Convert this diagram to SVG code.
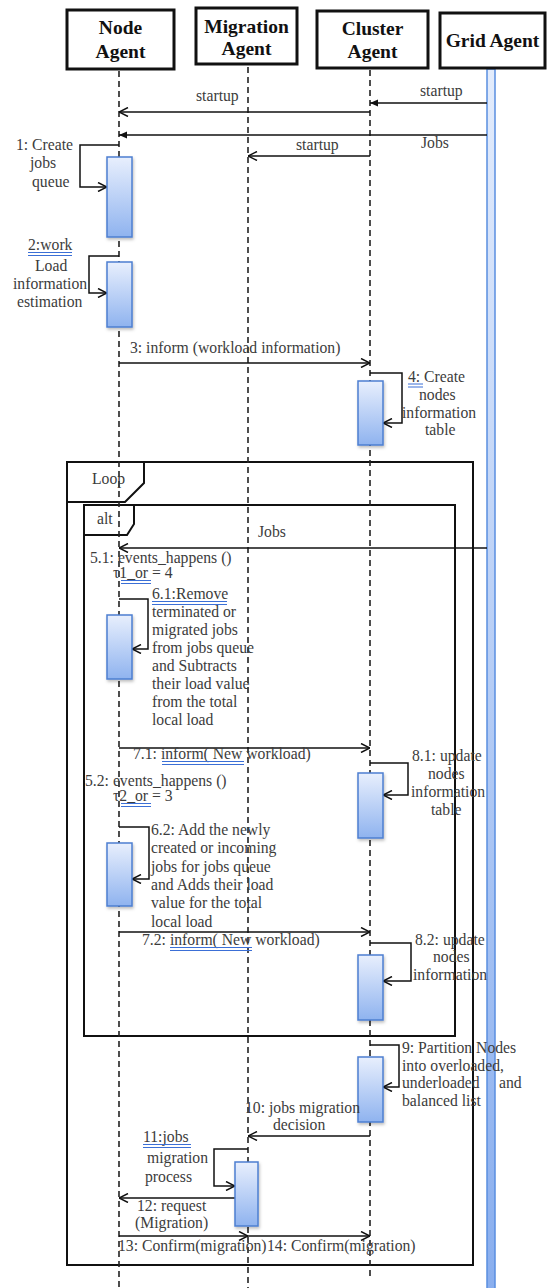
<svg xmlns="http://www.w3.org/2000/svg" width="548" height="1288" viewBox="0 0 548 1288">
  <defs>
    <style>
      .hdr-box { fill: #fff; stroke: #111; stroke-width: 3; }
      .hdr-txt { font-family: "Liberation Serif", "Times New Roman", serif; font-weight: bold; font-size: 19.5px; text-anchor: middle; fill: #111; }
      .life { stroke: #222; stroke-width: 1.6; stroke-dasharray: 6 4; fill: none; }
      .msg { stroke: #111; stroke-width: 1.5; fill: none; }
      .open { marker-end: url(#arrowOpen); }
      .solid { marker-end: url(#arrowSolid); }
      .act { fill: url(#actGrad); stroke: #4d7fd1; stroke-width: 1.5; filter: url(#shadow); }
      .frame { fill: none; stroke: #111; stroke-width: 2; }
      .lbl { font-family: "Liberation Serif", "Times New Roman", serif; font-size: 15.7px; fill: #3c3c3c; }
      .ul { stroke: #3b6fd6; stroke-width: 1; }
    </style>
    <linearGradient id="actGrad" x1="0" y1="0" x2="0" y2="1">
      <stop offset="0" stop-color="#e8effd"/>
      <stop offset="1" stop-color="#8fb3ef"/>
    </linearGradient>
    <linearGradient id="barGrad" x1="0" y1="0" x2="0" y2="1">
      <stop offset="0" stop-color="#e3ecfc"/>
      <stop offset="1" stop-color="#89aeee"/>
    </linearGradient>
    <filter id="shadow" x="-30%" y="-10%" width="160%" height="130%">
      <feDropShadow dx="1" dy="2" stdDeviation="1.5" flood-color="#000" flood-opacity="0.25"/>
    </filter>
    <marker id="arrowOpen" viewBox="0 0 10 10" refX="10" refY="5" markerWidth="10" markerHeight="10" markerUnits="userSpaceOnUse" orient="auto">
      <path d="M1,0.5 L10,5 L1,9.5" fill="none" stroke="#111" stroke-width="1.5"/>
    </marker>
    <marker id="arrowSolid" viewBox="0 0 8 8" refX="8" refY="4" markerWidth="8" markerHeight="8" markerUnits="userSpaceOnUse" orient="auto">
      <path d="M0,0.5 L8,4 L0,7.5 Z" fill="#111"/>
    </marker>
  </defs>

  <!-- combined fragments -->
  <g id="frame-loop">
    <rect class="frame" x="67" y="462" width="406" height="803"/>
    <path class="frame" d="M67,502 H125 L144,483 V462"/>
  </g>
  <g id="frame-alt">
    <rect class="frame" x="84" y="505" width="371" height="531"/>
    <path class="frame" d="M84,535 H127 L134,524 V505"/>
  </g>

  <!-- lifelines with their heads -->
  <g id="node-agent">
    <line class="life" x1="119" y1="71" x2="119" y2="1288"/>
    <rect class="hdr-box" x="67" y="10" width="107" height="59"/>
    <text class="hdr-txt" x="120.5" y="34">Node</text>
    <text class="hdr-txt" x="120.5" y="58">Agent</text>
  </g>
  <g id="migration-agent">
    <line class="life" x1="248" y1="67" x2="248" y2="1288"/>
    <rect class="hdr-box" x="196" y="8" width="101" height="56"/>
    <text class="hdr-txt" x="246.5" y="33">Migration</text>
    <text class="hdr-txt" x="246.5" y="55">Agent</text>
  </g>
  <g id="cluster-agent">
    <line class="life" x1="370" y1="70" x2="370" y2="1280"/>
    <rect class="hdr-box" x="317" y="11" width="111" height="57"/>
    <text class="hdr-txt" x="372.5" y="35">Cluster</text>
    <text class="hdr-txt" x="372.5" y="58">Agent</text>
  </g>
  <g id="grid-agent">
    <rect x="487" y="69" width="8" height="1225" fill="url(#barGrad)" stroke="#5a8ee0" stroke-width="1.5"/>
    <rect class="hdr-box" x="440" y="13" width="105" height="55"/>
    <text class="hdr-txt" x="492.5" y="47">Grid Agent</text>
  </g>

  <!-- messages -->
  <g id="connectors">
    <path class="msg solid" d="M487,103 H370"/>
    <path class="msg open" d="M370,112 H119"/>
    <path class="msg solid" d="M487,135 H119"/>
    <path class="msg open" d="M370,156 H248"/>
    <path class="msg open" d="M119,145 H80 V187 H107"/>
    <path class="msg open" d="M119,256 H89 V293 H107"/>
    <path class="msg open" d="M119,363 H370"/>
    <path class="msg open" d="M370,373 H402 V423 H383"/>
    <path class="msg open" d="M487,548 H119"/>
    <path class="msg open" d="M119,599 H148 V649 H132"/>
    <path class="msg open" d="M119,748 H370"/>
    <path class="msg open" d="M370,763 H408 V795 H383"/>
    <path class="msg open" d="M119,827 H149 V879 H132"/>
    <path class="msg open" d="M119,932 H370"/>
    <path class="msg open" d="M370,943 H411 V981 H383"/>
    <path class="msg open" d="M370,1045 H399 V1087 H383"/>
    <path class="msg open" d="M370,1136 H248"/>
    <path class="msg open" d="M248,1149 H214 V1186 H235"/>
    <path class="msg open" d="M235,1198 H119"/>
    <path class="msg open" d="M119,1236 H248"/>
    <path class="msg open" d="M248,1236 H370"/>
  </g>

  <!-- execution occurrences -->
  <g id="activations">
    <rect id="act-1" class="act" x="107" y="157" width="25" height="80"/>
    <rect id="act-2" class="act" x="107" y="262" width="25" height="65"/>
    <rect id="act-4" class="act" x="358" y="381" width="25" height="64"/>
    <rect id="act-61" class="act" x="107" y="615" width="25" height="64"/>
    <rect id="act-81" class="act" x="358" y="773" width="25" height="65"/>
    <rect id="act-62" class="act" x="107" y="843" width="25" height="63"/>
    <rect id="act-82" class="act" x="358" y="955" width="25" height="65"/>
    <rect id="act-9" class="act" x="358" y="1057" width="25" height="65"/>
    <rect id="act-11" class="act" x="235" y="1162" width="23" height="64"/>
  </g>

  <!-- labels -->
  <g id="labels" class="lbl">
    <text x="92" y="484">Loop</text>
    <text x="97" y="524">alt</text>

    <text x="420" y="96">startup</text>
    <text x="196" y="101">startup</text>
    <text x="421" y="148">Jobs</text>
    <text x="296" y="150">startup</text>

    <text x="16" y="150">1: Create</text>
    <text x="30" y="168">jobs</text>
    <text x="32" y="187">queue</text>

    <text x="28" y="250">2:work</text>
    <line class="ul" x1="28" y1="252.5" x2="72" y2="252.5"/>
    <line class="ul" x1="28" y1="255.5" x2="72" y2="255.5"/>
    <text x="35" y="271">Load</text>
    <text x="13" y="289">information</text>
    <text x="17" y="307">estimation</text>

    <text x="130" y="353">3: inform (workload information)</text>

    <text x="408" y="382">4: Create</text>
    <line class="ul" x1="408" y1="384" x2="423" y2="384"/>
    <line class="ul" x1="408" y1="387" x2="423" y2="387"/>
    <text x="419" y="400">nodes</text>
    <text x="402" y="418">information</text>
    <text x="425" y="435">table</text>

    <text x="258" y="537">Jobs</text>
    <text x="90" y="563">5.1: events_happens ()</text>
    <text x="113" y="578">τ1_or = 4</text>
    <line class="ul" x1="121" y1="580.5" x2="151" y2="580.5"/>
    <line class="ul" x1="121" y1="583.5" x2="151" y2="583.5"/>

    <text x="152" y="599">6.1:Remove</text>
    <line class="ul" x1="152" y1="601.5" x2="227" y2="601.5"/>
    <line class="ul" x1="152" y1="604.5" x2="227" y2="604.5"/>
    <text x="152" y="617">terminated or</text>
    <text x="152" y="635">migrated jobs</text>
    <text x="152" y="653">from jobs queue</text>
    <text x="152" y="671">and Subtracts</text>
    <text x="152" y="689">their load value</text>
    <text x="152" y="707">from the total</text>
    <text x="152" y="725">local load</text>

    <text x="133" y="759">7.1: inform( New workload)</text>
    <line class="ul" x1="162" y1="761.5" x2="244" y2="761.5"/>
    <line class="ul" x1="162" y1="764.5" x2="244" y2="764.5"/>

    <text x="412" y="761">8.1: update</text>
    <text x="428" y="779">nodes</text>
    <text x="411" y="797">information</text>
    <text x="431" y="815">table</text>

    <text x="85" y="786">5.2: events_happens ()</text>
    <text x="113" y="801">τ2_or = 3</text>
    <line class="ul" x1="121" y1="803.5" x2="151" y2="803.5"/>
    <line class="ul" x1="121" y1="806.5" x2="151" y2="806.5"/>

    <text x="151" y="835">6.2: Add the newly</text>
    <text x="151" y="853">created or incoming</text>
    <text x="151" y="872">jobs for jobs queue</text>
    <text x="151" y="890">and Adds their load</text>
    <text x="151" y="908">value for the total</text>
    <text x="151" y="927">local load</text>

    <text x="142" y="945">7.2: inform( New workload)</text>
    <line class="ul" x1="170" y1="947.5" x2="252" y2="947.5"/>
    <line class="ul" x1="170" y1="950.5" x2="252" y2="950.5"/>

    <text x="415" y="945">8.2: update</text>
    <text x="433" y="962">nodes</text>
    <text x="413" y="980">information</text>

    <text x="402" y="1053">9: Partition Nodes</text>
    <text x="402" y="1071">into overloaded,</text>
    <text x="402" y="1088">underloaded</text>
    <text x="499" y="1088">and</text>
    <text x="402" y="1106">balanced list</text>

    <text x="245" y="1113">10: jobs migration</text>
    <text x="273" y="1130">decision</text>

    <text x="143" y="1142">11:jobs</text>
    <line class="ul" x1="143" y1="1144.5" x2="191" y2="1144.5"/>
    <line class="ul" x1="143" y1="1147.5" x2="191" y2="1147.5"/>
    <text x="147" y="1163">migration</text>
    <text x="145" y="1182">process</text>

    <text x="137" y="1211">12: request</text>
    <text x="135" y="1228">(Migration)</text>

    <text x="118" y="1251">13: Confirm(migration)</text>
    <text x="267" y="1251">14: Confirm(migration)</text>
  </g>
</svg>
